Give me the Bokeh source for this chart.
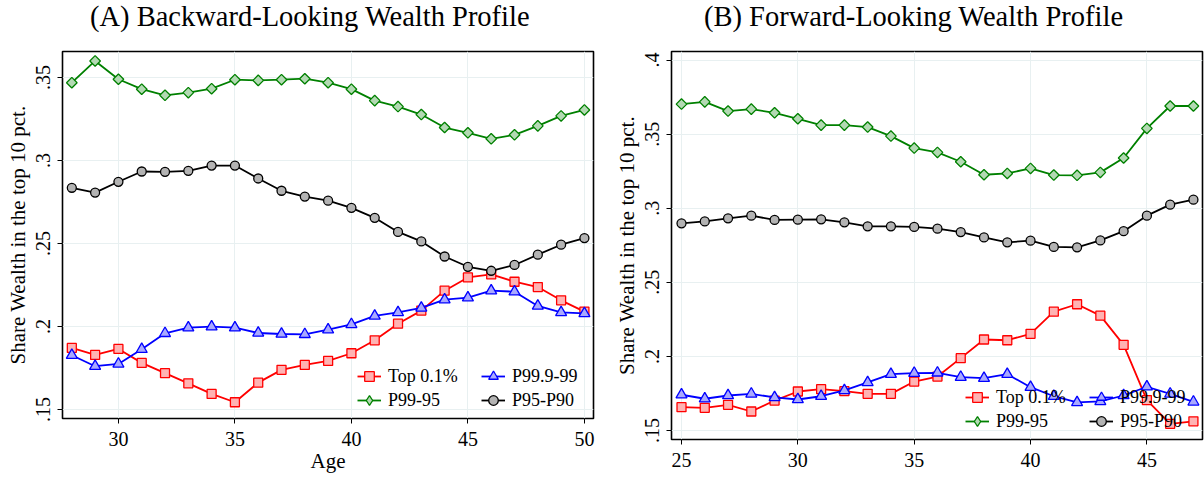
import numpy as np
from bokeh.plotting import figure
from bokeh.models import (Range1d, FixedTicker, CustomJSTickFormatter, Legend,
                          LegendItem, Div)
from bokeh.layouts import row, column
from bokeh.embed import file_html
from bokeh.resources import INLINE

# ---------------- data ----------------
ages_a = list(range(28, 51))
top01_a = [.1871, .1829, .1865, .1781, .1719, .1658, .1594, .1544, .1662, .1739,
           .1769, .1793, .1839, .1917, .2017, .2096, .2216, .2296, .2314, .2270,
           .2238, .2158, .2090]
p9999_a = [.1827, .1761, .1775, .1863, .1959, .1993, .1999, .1993, .1961, .1955,
           .1953, .1981, .2013, .2064, .2085, .2112, .2162, .2174, .2216, .2210,
           .2124, .2085, .2079]
p9995_a = [.3469, .3600, .3490, .3430, .3393, .3409, .3433, .3487, .3483, .3487,
           .3493, .3469, .3430, .3361, .3325, .3277, .3199, .3167, .3131, .3155,
           .3209, .3269, .3305]
p9590_a = [.2836, .2807, .2872, .2934, .2932, .2938, .2970, .2970, .2892, .2818,
           .2783, .2758, .2715, .2655, .2570, .2513, .2422, .2360, .2336, .2371,
           .2433, .2493, .2533]

ages_b = list(range(25, 48))
top01_b = [.1657, .1653, .1673, .1628, .1702, .1763, .1779, .1765, .1747, .1747,
           .1830, .1864, .1988, .2114, .2109, .2152, .2302, .2352, .2275, .2078,
           .1705, .1545, .1562]
p9999_b = [.1741, .1714, .1736, .1747, .1723, .1709, .1731, .1770, .1824, .1880,
           .1887, .1889, .1860, .1853, .1880, .1792, .1731, .1689, .1696, .1736,
           .1795, .1747, .1693]
p9995_b = [.3703, .3718, .3656, .3669, .3644, .3604, .3561, .3561, .3548, .3487,
           .3406, .3377, .3314, .3226, .3235, .3269, .3224, .3222, .3242, .3339,
           .3539, .3690, .3690]
p9590_b = [.2898, .2911, .2932, .2950, .2921, .2923, .2925, .2905, .2878, .2878,
           .2874, .2862, .2839, .2803, .2770, .2781, .2739, .2736, .2783, .2845,
           .2950, .3024, .3058]

labels = ["Top 0.1%", "P99.9-99", "P99-95", "P95-P90"]
title_a = "(A) Backward-Looking Wealth Profile"
title_b = "(B) Forward-Looking Wealth Profile"
y_label = "Share Wealth in the top 10 pct."
x_label = "Age"
yticks_a = [.15, .2, .25, .3, .35]
yticks_b = [.15, .2, .25, .3, .35, .4]
xticks_a = [30, 35, 40, 45, 50]
xticks_b = [25, 30, 35, 40, 45]

# ---------------- style ----------------
FONT = "Liberation Serif"
STYLES = {
    "Top 0.1%": dict(color="#ff0000", fill="#ffb3b3", marker="square", size=9, angle=0.0),
    "P99.9-99": dict(color="#0000ff", fill="#a9a9ff", marker="triangle", size=11, angle=0.0),
    "P99-95": dict(color="#008000", fill="#b3d9b3", marker="square", size=7.5, angle=np.pi / 4),
    "P95-P90": dict(color="#000000", fill="#b3b3b3", marker="circle", size=9, angle=0.0),
}
GRID = "#e8f0f1"
TITLE_H = 34


def title_div(text, width, indent):
    return Div(text=text, width=width, height=TITLE_H,
               styles={"font-family": FONT, "font-size": "28.5px", "line-height": "33px",
                       "text-align": "left", "text-indent": f"{indent}px",
                       "color": "black", "margin": "0", "padding": "0",
                       "white-space": "nowrap", "overflow": "visible"})


def make_panel(ages, series, xr, yr, xticks, yticks, width, height, borders,
               legend_xy, xlab):
    bl, br, bt, bb = borders
    p = figure(width=width, height=height, x_range=Range1d(*xr), y_range=Range1d(*yr),
               output_backend="svg", toolbar_location=None,
               min_border_left=bl, min_border_right=br, min_border_top=bt,
               min_border_bottom=bb)
    p.background_fill_color = "white"
    p.border_fill_color = "white"
    p.outline_line_color = "black"
    p.outline_line_width = 1.6

    p.xaxis.ticker = FixedTicker(ticks=xticks)
    p.yaxis.ticker = FixedTicker(ticks=yticks)
    p.yaxis.formatter = CustomJSTickFormatter(
        code="return tick.toFixed(2).replace(/0$/, '').replace(/^0/, '');")
    for ax in (p.xaxis, p.yaxis):
        ax.axis_line_color = None
        ax.major_tick_line_color = "black"
        ax.major_tick_line_width = 1
        ax.major_tick_out = 5
        ax.major_tick_in = 0
        ax.minor_tick_line_color = None
        ax.major_label_text_font = FONT
        ax.major_label_text_font_size = "20px"
        ax.major_label_text_color = "black"
        ax.axis_label_text_font = FONT
        ax.axis_label_text_font_size = "21px"
        ax.axis_label_text_font_style = "normal"
        ax.axis_label_text_color = "black"
    p.yaxis.major_label_standoff = 7
    p.yaxis.axis_label_standoff = 4
    p.xaxis.major_label_standoff = 8
    p.xaxis.axis_label_standoff = 0
    p.yaxis.major_label_orientation = "vertical"
    p.yaxis.axis_label = y_label
    if xlab:
        p.xaxis.axis_label = xlab
    p.xgrid.grid_line_color = GRID
    p.ygrid.grid_line_color = GRID
    p.xgrid.grid_line_width = 1
    p.ygrid.grid_line_width = 1

    items = []
    for lab, vals in zip(labels, series):
        st = STYLES[lab]
        ln = p.line(ages, vals, line_color=st["color"], line_width=1.8)
        sc = p.scatter(ages, vals, marker=st["marker"], size=st["size"], angle=st["angle"],
                       fill_color=st["fill"], line_color=st["color"], line_width=1.3)
        if st["angle"] != 0.0:
            # legend-only diamond (rotated squares are drawn unrotated in legends)
            sc = p.scatter([xr[0] - 100], [yr[0] - 1], marker="diamond", size=10,
                           fill_color=st["fill"], line_color=st["color"], line_width=1.3)
        items.append(LegendItem(label=lab, renderers=[ln, sc]))

    leg = Legend(items=items, location=legend_xy, orientation="horizontal", ncols=2,
                 background_fill_alpha=0, border_line_alpha=0, padding=0, margin=0,
                 spacing=0, glyph_width=24, glyph_height=24, label_height=24,
                 label_width=93, label_standoff=7,
                 label_text_font=FONT, label_text_font_size="18px",
                 label_text_color="black")
    p.add_layout(leg)
    return p


H = 478 - TITLE_H
pa = make_panel(ages_a, [top01_a, p9999_a, p9995_a, p9590_a],
                (27.6, 50.39), (.1446, .3657), xticks_a, yticks_a,
                600, H, (62, 7, 51 - TITLE_H, 60), (295, 6), x_label)
pb = make_panel(ages_b, [top01_b, p9999_b, p9995_b, p9590_b],
                (24.57, 47.39), (.1439, .4058), xticks_b, yticks_b,
                604, H, (71, 2, 51 - TITLE_H, 39), (294, 6), None)

ta = title_div(title_a, 600, 90)
tb = title_div(title_b, 604, 104)

layout = row(column(ta, pa), column(tb, pb))
open("out.html", "w").write(file_html(layout, INLINE))
